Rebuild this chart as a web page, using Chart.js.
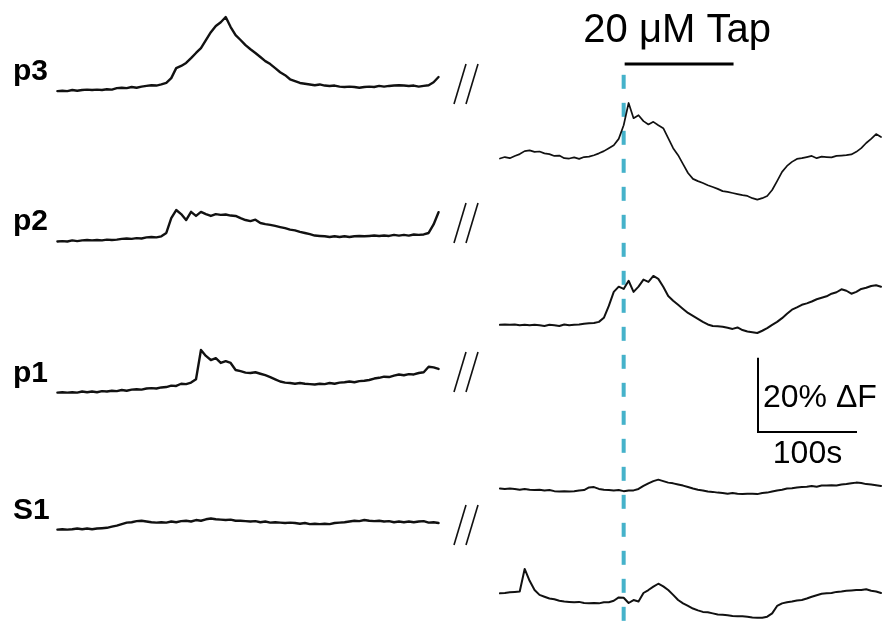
<!DOCTYPE html>
<html><head><meta charset="utf-8">
<script src="https://cdn.jsdelivr.net/npm/chart.js@4.4.1/dist/chart.umd.min.js"></script>
<style>html,body{margin:0;padding:0;background:#fff;}canvas{display:block;}</style>
</head><body>
<canvas id="c" width="886" height="623"></canvas>
<script>
// ---------- DATA (time in s, fluorescence in %ΔF relative to each trace's start) ----------
const TIME = [0,5,10,15,20,25,30,35,40,45,50,55,60,65,70,75,80,85,90,95,100,105,110,115,120,125,130,135,140,145,150,155,160,165,170,175,180,185,190,195,200,205,210,215,220,225,230,235,240,245,250,255,260,265,270,275,280,285,290,295,300,305,310,315,320,325,330,335,340,345,350,355,360,365,370,375,380,385];

// left panel (before the break)
const P3 = [0,0.1,0,0.3,0.1,0.3,0.4,0.3,0.4,0.3, 0.5,0.4,0.8,0.9,0.8,1.1,0.9,1.2,1.4,1.6, 1.5,1.8,2.2,3.5,6.2,6.8,7.6,8.9,10.3,11.6, 13.8,15.9,17.6,18.6,20.0,17.3,15.1,13.8,12.4,11.3, 10.3,9.2,8.1,7.3,6.2,5.1,4.3,3.2,2.7,2.2, 2.0,1.8,1.6,1.8,1.5,1.4,1.5,1.2,1.1,1.2, 1.1,0.9,1.1,1.2,1.1,1.4,1.2,1.4,1.5,1.6, 1.5,1.4,1.5,1.2,1.4,1.6,2.4,3.8];
const P2 = [0,0.1,0,0.3,0.1,0.3,0.4,0.3,0.4,0.3, 0.5,0.4,0.5,0.7,0.8,0.7,0.9,0.8,1.1,1.2, 1.1,1.4,2.3,6.3,8.5,7.4,5.8,8.0,6.9,8.0, 7.4,6.9,7.4,7.2,7.3,7.0,6.9,6.3,5.8,5.5, 5.9,5.0,4.7,4.5,4.2,3.9,3.6,3.2,3.0,2.6, 2.3,2.0,1.6,1.5,1.4,1.2,1.4,1.2,1.4,1.2, 1.4,1.5,1.4,1.5,1.6,1.5,1.6,1.5,1.8,1.6, 1.8,1.6,1.9,1.8,1.9,2.3,4.6,7.9];
const P1 = [0,0.1,0,0.1,0,0.3,0.1,0.3,0.1,0.4, 0.3,0.5,0.4,0.7,0.5,0.8,0.9,0.8,1.1,1.2, 1.1,1.4,1.5,1.9,1.8,2.4,2.3,2.7,3.6,11.5, 9.9,8.8,9.3,8.0,8.5,8.0,6.1,5.8,5.4,5.3, 5.5,5.1,4.7,4.2,3.6,3.0,2.7,2.6,2.4,2.6, 2.4,2.3,2.2,2.4,2.3,2.6,2.4,2.7,2.8,3.0, 2.8,3.1,3.2,3.4,3.8,4.0,4.3,4.2,4.6,4.9, 4.7,5.0,4.9,5.3,5.5,7.0,6.8,6.4];
const S1 = [0,0.1,0,0.1,0.3,0.1,0.3,0.1,0.3,0.4, 0.5,0.8,1.1,1.5,1.9,2.0,2.3,2.4,2.2,2.0, 1.9,2.0,1.9,2.2,2.0,2.3,2.4,2.2,2.6,2.4, 2.8,3.0,2.8,2.7,2.6,2.7,2.4,2.4,2.3,2.2, 2.3,2.0,2.2,1.9,2.0,1.9,1.8,1.9,1.8,1.6, 1.8,1.5,1.6,1.5,1.6,1.5,1.8,1.9,2.0,2.2, 2.4,2.3,2.6,2.4,2.3,2.4,2.2,2.3,2.0,2.2, 2.0,2.2,2.0,2.2,2.3,1.9,2.0,1.8];

// right panel (after the break, Tap application)
const R1 = [0,0.4,0.1,0.7,1.2,2.0,2.2,1.8,1.9,1.4, 1.2,0.7,0.8,0.1,0,0.3,-0.1,0.4,0.5,0.9, 1.4,2.0,2.8,3.6,5.3,9.0,15.0,10.9,11.7,10.1, 9.2,9.9,9.0,8.2,5.5,2.8,0.9,-1.5,-3.9,-5.5, -6.1,-6.6,-7.2,-7.7,-8.2,-8.8,-9.0,-9.3,-9.6,-9.9, -10.1,-10.7,-11.1,-10.7,-10.1,-8.5,-6.1,-3.6,-2.0,-0.9, -0.1,0.1,0.4,0.7,0.1,0.5,0.4,0.3,0.7,0.8, 0.9,1.1,1.8,2.8,4.2,5.3,6.6,5.8];
const R2 = [0,0.1,0,0.1,-0.1,0,-0.1,0,-0.1,-0.3, 0,-0.1,-0.3,0.1,-0.1,0,0.1,0.3,0.4,0.5, 0.8,1.9,5.1,8.9,10.3,9.7,11.9,8.9,10.3,12.2, 11.6,13.2,12.4,10.3,7.8,6.5,5.4,4.3,3.2,2.4, 1.6,0.8,0.1,-0.3,-0.4,-0.5,-0.8,-1.1,-0.7,-1.4, -1.8,-2.0,-2.2,-1.6,-0.9,0,0.8,1.8,3.0,4.1, 4.7,5.4,5.8,6.3,6.9,7.3,7.7,8.4,8.8,9.6, 9.2,8.4,8.9,9.7,10.0,10.5,10.7,10.3];
const R3 = [0,-0.1,0,-0.1,-0.3,-0.1,-0.3,-0.4,-0.3,-0.5, -0.4,-0.7,-0.8,-0.7,-0.8,-0.7,-0.5,-0.4,0.3,0.4, -0.1,-0.3,-0.4,-0.5,-0.4,-0.7,-0.5,-0.5,-0.1,0.7, 1.4,2.0,2.4,2.0,1.6,1.4,1.1,0.8,0.4,0, -0.3,-0.5,-0.8,-0.9,-1.1,-1.2,-1.4,-1.2,-1.4,-1.5, -1.4,-1.4,-1.5,-1.2,-1.1,-0.8,-0.5,-0.3,0,0.1, 0.3,0.4,0.5,0.7,0.5,0.8,0.8,0.9,0.8,1.1, 1.2,1.4,1.6,1.5,1.2,1.1,0.9,0.7];
const R4 = [0,0.1,0.3,0.4,0.5,6.6,3.4,0.9,-0.4,-0.9, -1.4,-1.6,-2.0,-2.2,-2.3,-2.4,-2.3,-2.6,-2.7,-2.6, -2.7,-2.4,-2.4,-2.0,-1.1,-1.2,-2.6,-1.8,-2.2,0.1, 0.9,1.8,2.6,1.9,0.9,-0.4,-1.8,-2.7,-3.4,-4.1, -4.6,-5.0,-5.1,-5.4,-5.7,-5.8,-5.9,-6.1,-6.2,-6.2, -6.3,-6.5,-6.6,-6.6,-6.3,-5.4,-3.4,-2.7,-2.4,-2.2, -1.9,-1.8,-1.4,-0.9,-0.5,-0.1,0,0.1,0.4,0.5, 0.7,0.8,0.9,0.9,1.1,0.7,0.5,0.1];

const LEFT_LABELS = ['p3','p2','p1','S1'];
const TAP_START = 126;      // s after start of right-panel recording
const TAP_END = 236;
const DRUG_LABEL = '20 \u03BCM Tap';
const SCALE_DF = 20;        // %ΔF
const SCALE_T = 100;        // s
const SCALE_LABELS = ['20% \u0394F', '100s'];

// ---------- LAYOUT ----------
const X_MIN = -58, X_MAX = 837;
const Y_MIN = 0, Y_MAX = 168.2;
const RIGHT_T0 = 447;                       // horizontal placement of right panel
const LEFT_OFFSETS = [143.6, 103.0, 62.2, 25.2];
const RIGHT_OFFSETS = [125.4, 80.5, 36.3, 8.0];
const DASH_TOP = 148;
const BAR_Y = 150.9;
const SCALEBAR_X = 707.7, SCALEBAR_Y = 51.6;
const BREAK_BOTTOMS = [104, 243, 392, 545];  // px
const FONT = '"Liberation Sans", Arial, Helvetica, sans-serif';

function trace(vals, t0, off, width) {
  return {
    data: TIME.map((t, i) => ({ x: t + t0, y: vals[i] + off })),
    borderColor: '#111', borderWidth: width, borderJoinStyle: 'round', borderCapStyle: 'round'
  };
}

const datasets = [
  trace(P3, 0, LEFT_OFFSETS[0], 2.4),
  trace(P2, 0, LEFT_OFFSETS[1], 2.4),
  trace(P1, 0, LEFT_OFFSETS[2], 2.4),
  trace(S1, 0, LEFT_OFFSETS[3], 2.4),
  trace(R1, RIGHT_T0, RIGHT_OFFSETS[0], 1.7),
  trace(R2, RIGHT_T0, RIGHT_OFFSETS[1], 2.0),
  trace(R3, RIGHT_T0, RIGHT_OFFSETS[2], 2.0),
  trace(R4, RIGHT_T0, RIGHT_OFFSETS[3], 2.0),
  { // Tap onset (dashed)
    data: [{ x: RIGHT_T0 + TAP_START - 1, y: DASH_TOP }, { x: RIGHT_T0 + TAP_START - 1, y: Y_MIN }],
    borderColor: '#45b2ca', borderWidth: 4, borderDash: [14, 14]
  },
  { // drug application bar
    data: [{ x: RIGHT_T0 + TAP_START, y: BAR_Y }, { x: RIGHT_T0 + TAP_END, y: BAR_Y }],
    borderColor: '#000', borderWidth: 3
  },
  { // scale bar
    data: [{ x: SCALEBAR_X, y: SCALEBAR_Y + SCALE_DF }, { x: SCALEBAR_X, y: SCALEBAR_Y }, { x: SCALEBAR_X + SCALE_T, y: SCALEBAR_Y }],
    borderColor: '#000', borderWidth: 2, borderJoinStyle: 'miter'
  }
];

const annotate = {
  id: 'annotate',
  afterDatasetsDraw(chart) {
    const ctx = chart.ctx, xs = chart.scales.x, ys = chart.scales.y;
    ctx.save();
    ctx.fillStyle = '#000';
    ctx.textBaseline = 'alphabetic';
    // trace labels
    ctx.font = 'bold 30px ' + FONT;
    ctx.textAlign = 'left';
    LEFT_LABELS.forEach((lab, i) => {
      ctx.fillText(lab, 13, ys.getPixelForValue(LEFT_OFFSETS[i]) - 11);
    });
    // break marks
    ctx.strokeStyle = '#111';
    ctx.lineWidth = 1.6;
    BREAK_BOTTOMS.forEach(b => {
      [454, 466].forEach(x0 => {
        ctx.beginPath();
        ctx.moveTo(x0, b);
        ctx.lineTo(x0 + 12, b - 40);
        ctx.stroke();
      });
    });
    // drug label
    const bx0 = xs.getPixelForValue(RIGHT_T0 + TAP_START), bx1 = xs.getPixelForValue(RIGHT_T0 + TAP_END);
    ctx.font = '40px ' + FONT;
    ctx.textAlign = 'center';
    ctx.fillText(DRUG_LABEL, (bx0 + bx1) / 2 - 2, ys.getPixelForValue(BAR_Y) - 22);
    // scale bar labels
    const sx = xs.getPixelForValue(SCALEBAR_X), sy = ys.getPixelForValue(SCALEBAR_Y);
    const sx1 = xs.getPixelForValue(SCALEBAR_X + SCALE_T);
    ctx.font = '32px ' + FONT;
    ctx.textAlign = 'left';
    ctx.fillText(SCALE_LABELS[0], sx + 5, sy - 25);
    ctx.textAlign = 'center';
    ctx.fillText(SCALE_LABELS[1], (sx + sx1) / 2, sy + 31);
    ctx.restore();
  }
};

new Chart(document.getElementById('c'), {
  type: 'scatter',
  data: { datasets },
  options: {
    responsive: false,
    devicePixelRatio: 1,
    animation: false,
    showLine: true,
    layout: { padding: 0 },
    elements: { point: { radius: 0, hoverRadius: 0 }, line: { tension: 0 } },
    datasets: { scatter: { showLine: true, pointRadius: 0, clip: false } },
    plugins: { legend: { display: false }, tooltip: { enabled: false } },
    events: [],
    scales: {
      x: { type: 'linear', display: false, min: X_MIN, max: X_MAX },
      y: { type: 'linear', display: false, min: Y_MIN, max: Y_MAX }
    }
  },
  plugins: [annotate]
});
</script>
</body></html>
